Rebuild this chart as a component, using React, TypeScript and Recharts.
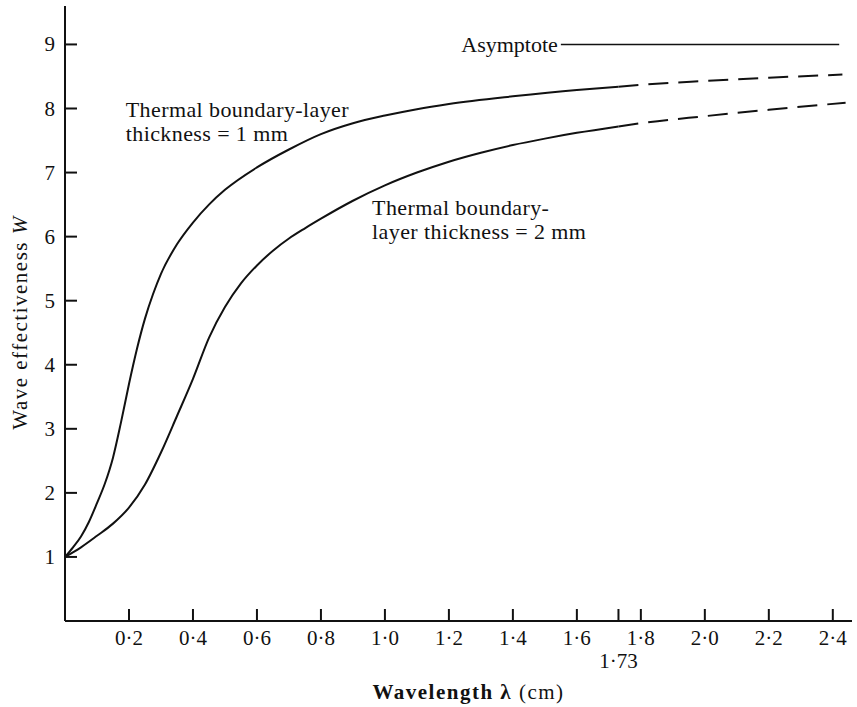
import React from 'react';
import { LineChart, Line, XAxis, YAxis, ReferenceLine, ReferenceDot, Label } from 'recharts';

const FONT = '"Liberation Serif", "Times New Roman", serif';
const INK = '#111';

// 1 mm boundary layer: solid up to the marked 1.73 cm, dashed beyond
const lambda1mm = [0, 0.025, 0.05, 0.075, 0.1, 0.125, 0.15, 0.175, 0.2, 0.225, 0.25, 0.275, 0.3, 0.35, 0.4, 0.45, 0.5, 0.6, 0.7, 0.8, 0.9, 1.0, 1.1, 1.2, 1.4, 1.6, 1.73];
const w1mm = [1.0, 1.15, 1.32, 1.55, 1.84, 2.15, 2.55, 3.1, 3.7, 4.25, 4.72, 5.1, 5.42, 5.88, 6.22, 6.5, 6.73, 7.08, 7.36, 7.6, 7.77, 7.89, 7.99, 8.07, 8.19, 8.29, 8.34];
const lambda1mmDashed = [1.73, 1.8, 2.0, 2.2, 2.43];
const w1mmDashed = [8.34, 8.37, 8.43, 8.48, 8.53];

// 2 mm boundary layer
const lambda2mm = [0, 0.05, 0.1, 0.15, 0.2, 0.25, 0.3, 0.35, 0.4, 0.45, 0.5, 0.55, 0.6, 0.65, 0.7, 0.75, 0.8, 0.9, 1.0, 1.1, 1.2, 1.3, 1.4, 1.5, 1.6, 1.73];
const w2mm = [1.0, 1.15, 1.33, 1.52, 1.77, 2.13, 2.63, 3.2, 3.78, 4.42, 4.9, 5.27, 5.55, 5.78, 5.97, 6.13, 6.28, 6.56, 6.8, 7.0, 7.17, 7.31, 7.43, 7.53, 7.62, 7.72];
const lambda2mmDashed = [1.73, 1.8, 2.0, 2.2, 2.44];
const w2mmDashed = [7.72, 7.77, 7.88, 7.98, 8.09];

const xTicks = [0.2, 0.4, 0.6, 0.8, 1.0, 1.2, 1.4, 1.6, 1.73, 1.8, 2.0, 2.2, 2.4];
const yTicks = [1, 2, 3, 4, 5, 6, 7, 8, 9];
const asymptoteW = 9;
const asymptoteFrom = 1.55;
const asymptoteTo = 2.42;

const toPoints = (xs: number[], ys: number[]) => xs.map((x, i) => ({ x, w: ys[i] }));

const XTick = (props: any) => {
  const { x, y, payload } = props;
  const v = payload.value;
  const lowered = v === 1.73;
  const label = lowered ? '1·73' : v.toFixed(1).replace('.', '·');
  return (
    <text x={x} y={y} dy={lowered ? 47 : 24} textAnchor="middle" fontFamily={FONT} fontSize={21} fill={INK}>
      {label}
    </text>
  );
};

const YTick = (props: any) => {
  const { x, y, payload } = props;
  return (
    <text x={x} y={y} dy={7} textAnchor="end" fontFamily={FONT} fontSize={21} fill={INK}>
      {payload.value}
    </text>
  );
};

const XTitle = (props: any) => {
  const { x, y, width } = props.viewBox;
  return (
    <text x={x + width / 2 + 10} y={y + 78} textAnchor="middle" fontFamily={FONT} fontSize={21} letterSpacing={1.5} fill={INK}>
      <tspan fontWeight="bold">Wavelength λ</tspan>
      <tspan> (cm)</tspan>
    </text>
  );
};

const YTitle = (props: any) => {
  const { x, y, height } = props.viewBox;
  const cx = x + 27;
  const cy = y + height / 2 + 9;
  return (
    <text x={cx} y={cy} transform={`rotate(-90, ${cx}, ${cy})`} textAnchor="middle" fontFamily={FONT} fontSize={21} letterSpacing={1.5} fill={INK}>
      Wave effectiveness <tspan fontStyle="italic">W</tspan>
    </text>
  );
};

const note = (lines: string[]) => (p: any) => (
  <text x={p.cx} y={p.cy} fontFamily={FONT} fontSize={22} letterSpacing={0.4} fill={INK}>
    {lines.map((t, i) => (
      <tspan key={i} x={p.cx} dy={i === 0 ? 0 : 24}>
        {t}
      </tspan>
    ))}
  </text>
);

export default function App() {
  return (
    <div style={{ position: 'absolute', left: 0, top: 0, background: '#fff' }}>
      <LineChart width={857} height={707} margin={{ top: 6, right: 5, bottom: 0, left: 0 }}>
        <XAxis
          dataKey="x"
          type="number"
          domain={[0, 2.46]}
          ticks={xTicks}
          interval={0}
          height={86}
          tickSize={-12}
          tickMargin={12}
          tick={<XTick />}
          axisLine={{ stroke: INK, strokeWidth: 2 }}
          tickLine={{ stroke: INK, strokeWidth: 2 }}
        >
          <Label content={<XTitle />} />
        </XAxis>
        <YAxis
          type="number"
          domain={[0, 9.6]}
          ticks={yTicks}
          interval={0}
          width={65}
          tickSize={-12}
          tickMargin={22}
          tick={<YTick />}
          axisLine={{ stroke: INK, strokeWidth: 2 }}
          tickLine={{ stroke: INK, strokeWidth: 2 }}
        >
          <Label content={<YTitle />} />
        </YAxis>

        <Line data={toPoints(lambda1mm, w1mm)} dataKey="w" type="monotone" stroke={INK} strokeWidth={2} dot={false} isAnimationActive={false} />
        <Line data={toPoints(lambda1mmDashed, w1mmDashed)} dataKey="w" type="monotone" stroke={INK} strokeWidth={2} strokeDasharray="20 10" dot={false} isAnimationActive={false} />
        <Line data={toPoints(lambda2mm, w2mm)} dataKey="w" type="monotone" stroke={INK} strokeWidth={2} dot={false} isAnimationActive={false} />
        <Line data={toPoints(lambda2mmDashed, w2mmDashed)} dataKey="w" type="monotone" stroke={INK} strokeWidth={2} strokeDasharray="20 10" dot={false} isAnimationActive={false} />

        <ReferenceLine
          segment={[{ x: asymptoteFrom, y: asymptoteW }, { x: asymptoteTo, y: asymptoteW }]}
          stroke={INK}
          strokeWidth={1.5}
          label={{ value: 'Asymptote', position: 'left', offset: 3, fill: INK, fontSize: 22, fontFamily: FONT }}
        />

        <ReferenceDot x={0.19} y={7.86} r={0} shape={note(['Thermal boundary-layer', 'thickness = 1 mm'])} />
        <ReferenceDot x={0.96} y={6.33} r={0} shape={note(['Thermal boundary-', 'layer thickness = 2 mm'])} />
      </LineChart>
    </div>
  );
}
